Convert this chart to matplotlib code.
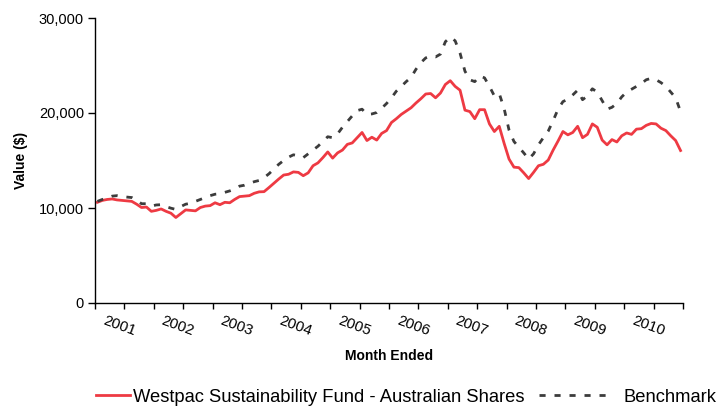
import matplotlib
matplotlib.use("Agg")
import matplotlib.pyplot as plt
import numpy as np

fund = [10600, 10800, 10900, 10950, 10850, 10800, 10750, 10700, 10400, 10050,
        10100, 9650, 9750, 9900, 9650, 9450, 9000, 9400, 9800, 9750,
        9700, 10050, 10200, 10250, 10550, 10350, 10600, 10550, 10900, 11200,
        11250, 11300, 11550, 11700, 11720, 12150, 12600, 13050, 13470, 13550,
        13800, 13750, 13400, 13700, 14450, 14750, 15300, 15900, 15250, 15800,
        16100, 16700, 16850, 17400, 17950, 17100, 17450, 17150, 17850, 18150,
        19000, 19400, 19850, 20200, 20550, 21050, 21500, 22000, 22050, 21600,
        22100, 23000, 23400, 22800, 22400, 20300, 20150, 19400, 20350, 20350,
        18850, 18050, 18600, 16800, 15150, 14300, 14250, 13700, 13100, 13750,
        14450, 14600, 15050, 16100, 17050, 18050, 17700, 17950, 18600, 17400,
        17750, 18850, 18500, 17150, 16650, 17200, 16950, 17600, 17900, 17750,
        18300, 18350, 18700, 18900, 18850, 18400, 18150, 17600, 17100, 16050]

benchmark = [10700, 10900, 11050, 11250, 11300, 11200, 11150, 11100, 10800, 10450,
             10450, 10200, 10320, 10350, 10150, 9980, 9850, 10150, 10400, 10500,
             10700, 10900, 11100, 11300, 11450, 11500, 11650, 11800, 12000, 12300,
             12400, 12600, 12770, 12900, 13200, 13600, 14100, 14600, 15000, 15350,
             15600, 15500, 15300, 15700, 16100, 16500, 17000, 17500, 17400, 17800,
             18500, 19100, 19700, 20250, 20400, 19850, 19900, 20050, 20500, 21000,
             21600, 22300, 22800, 23300, 23750, 24600, 25300, 25800, 26000, 25900,
             26200, 27500, 28000, 27600, 26300, 24400, 23500, 23300, 23900, 23700,
             22800, 21800, 22050, 20450, 18200, 17000, 16400, 15800, 15150, 15700,
             16650, 17400, 18100, 19200, 20400, 21200, 21450, 21900, 22400, 21400,
             21800, 22550, 22200, 21300, 20400, 20600, 21000, 21700, 22200, 22500,
             22800, 23100, 23500, 23650, 23500, 23200, 22800, 22200, 21600, 20150]

years = ["2001", "2002", "2003", "2004", "2005", "2006", "2007", "2008", "2009", "2010"]
yticks = [0, 10000, 20000, 30000]
ytick_labels = ["0", "10,000", "20,000", "30,000"]

plt.rcParams['font.family'] = ['Liberation Sans', 'DejaVu Sans']

fig = plt.figure(figsize=(7.18, 4.09), dpi=100)
ax = fig.add_axes([95/718, 1-303/409, (683-95)/718, (303-18)/409])

x = np.arange(len(fund))
l1, = ax.plot(x, fund, color="#EE3A43", lw=2.0, solid_joinstyle="round",
              label="Westpac Sustainability Fund - Australian Shares")
l2, = ax.plot(x, benchmark, color="#3C3C3C", lw=2.0, dashes=(2.2, 3.2),
              label="Benchmark")

ax.set_xlim(-0.5, len(fund) - 0.5)
ax.set_ylim(0, 30000)
ax.set_yticks(yticks)
ax.set_yticklabels(ytick_labels, fontsize=10.5)

ax.set_xticks(np.arange(-0.5, len(fund), 6))
ax.set_xticklabels([])
ax.set_xticks([4.4 + 12*i for i in range(len(years))], minor=True)
ax.set_xticklabels(years, minor=True, rotation=-20, fontsize=10.8,
                   ha="center", va="top")
ax.tick_params(axis="x", which="minor", length=0, pad=8)
ax.tick_params(axis="x", which="major", length=4, direction="out", width=1)
ax.tick_params(axis="y", length=5, direction="out", width=1, pad=3)

for s in ["top", "right"]:
    ax.spines[s].set_visible(False)
for s in ["left", "bottom"]:
    ax.spines[s].set_linewidth(1.0)

ax.set_ylabel("Value ($)", fontsize=10, fontweight="bold", labelpad=8)
fig.text(389/718, 1-356/409, "Month Ended", fontsize=10, fontweight="bold",
         ha="center", va="center")

leg1 = fig.legend(handles=[l1], loc="center left",
                  bbox_to_anchor=(96/718, 1-397/409), frameon=False,
                  fontsize=13.2, handlelength=1.85, handletextpad=0.15,
                  borderpad=0, borderaxespad=0)
leg2 = fig.legend(handles=[l2], loc="center left",
                  bbox_to_anchor=(539/718, 1-397/409), frameon=False,
                  fontsize=13.2, handlelength=4.1, handletextpad=0.5,
                  borderpad=0, borderaxespad=0)

fig.savefig("out.png", dpi=100)
